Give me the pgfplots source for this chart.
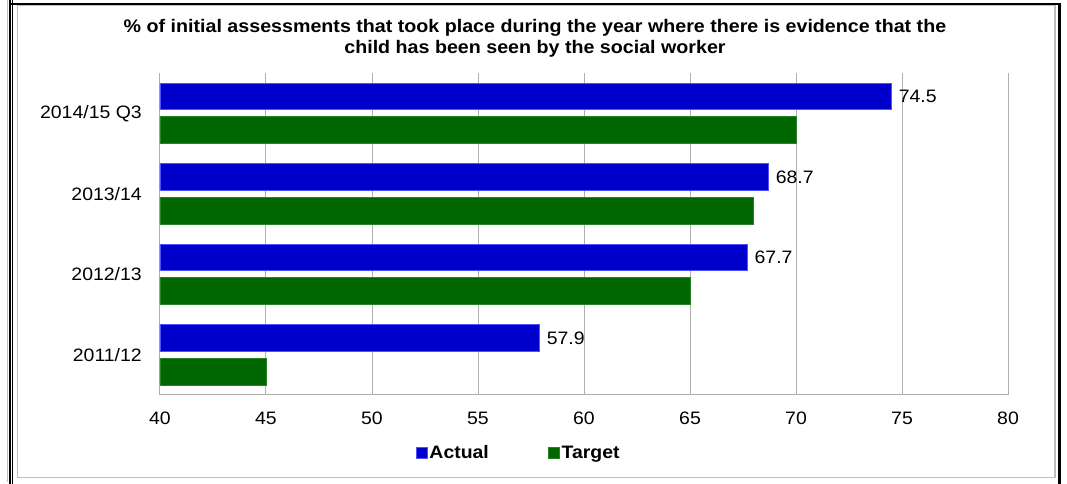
\documentclass[border=0pt]{standalone}
\usepackage{fontspec}
\setmainfont{Liberation Sans}[FakeStretch=1.08]
\usepackage{pgfplots}
\pgfplotsset{compat=1.18}
\definecolor{barblue}{RGB}{0,0,204}
\definecolor{bargreen}{RGB}{0,102,0}
\definecolor{blueedge}{RGB}{80,80,255}
\definecolor{greenedge}{RGB}{40,130,40}
\definecolor{gridgray}{RGB}{175,175,175}
\definecolor{framegray}{RGB}{190,190,190}
\newcommand\fs{\fontsize{13.5pt}{16pt}\selectfont}
\newcommand\ts{\fontsize{13.65pt}{16pt}\selectfont}
\def\px#1#2{({((#1)-160)*0.75pt},{(395-(#2))*0.75pt})}
\begin{document}
\begin{tikzpicture}
\useasboundingbox \px{0}{0} rectangle \px{1067}{484};
% frame
\draw[framegray, line width=1.1pt] \px{7.5}{0} -- \px{7.5}{482};
\draw[black, line width=1.2pt] \px{9.9}{0} -- \px{9.9}{484};
\draw[black, line width=1.2pt] \px{12.5}{0} -- \px{12.5}{484};
\draw[black, line width=1.5pt] \px{9.5}{3.7} -- \px{1060.5}{3.7};
\draw[black, line width=2.25pt] \px{1059.2}{3} -- \px{1059.2}{484};
\draw[framegray, line width=1.1pt] \px{17.5}{5.5} rectangle \px{1055}{477.7};
% title
\node[font=\bfseries\ts, anchor=base, inner sep=0pt] at \px{535}{33} {\% of initial assessments that took place during the year where there is evidence that the};
\node[font=\bfseries\ts, anchor=base, inner sep=0pt] at \px{535}{53.5} {child has been seen by the social worker};
\begin{axis}[
  scale only axis,
  width=636pt, height=241.5pt,
  xmin=40, xmax=80,
  ymin=-0.5, ymax=3.5,
  xtick={40,45,...,80},
  ytick={0,1,2,3},
  yticklabels={2011/12,2012/13,2013/14,2014/15 Q3},
  major tick length=0pt,
  tick style={draw=none},
  axis line style={draw=none},
  xmajorgrids,
  grid style={gridgray, line width=0.75pt},
  /pgf/number format/assume math mode=true,
  xticklabel style={font=\fs, inner sep=0pt, yshift=-12.75pt},
  yticklabel style={font=\fs, inner sep=0pt, xshift=-13.5pt},
  legend style={at={(0.4233,-0.18)}, anchor=center, draw=none, fill=none,
    font=\bfseries\fs, legend columns=2, inner sep=0pt,
    nodes={inner sep=1.6pt},
    /tikz/every even column/.append style={column sep=43pt}},
  legend image code/.code={\fill[#1] (0pt,-3.9pt) rectangle (7.9pt,3.9pt);},
]
\addplot[xbar, fill=barblue, draw=blueedge, line width=0.5pt, bar width=20pt, bar shift=12.6pt,
  point meta=x,
  nodes near coords={\pgfmathprintnumber[fixed,fixed zerofill,precision=1]{\pgfplotspointmeta}},
  nodes near coords style={anchor=west, inner sep=0pt, xshift=5.3pt, yshift=12.6pt, font=\fs, text=black}]
  coordinates {(57.9,0) (67.7,1) (68.7,2) (74.5,3)};
\addlegendentry{Actual}
\addplot[xbar, fill=bargreen, draw=greenedge, line width=0.5pt, bar width=20pt, bar shift=-12.6pt]
  coordinates {(45,0) (65,1) (68,2) (70,3)};
\addlegendentry{Target}
\draw[gridgray, line width=0.75pt] (rel axis cs:0,0) -- (rel axis cs:1,0);
\end{axis}
\end{tikzpicture}
\end{document}
